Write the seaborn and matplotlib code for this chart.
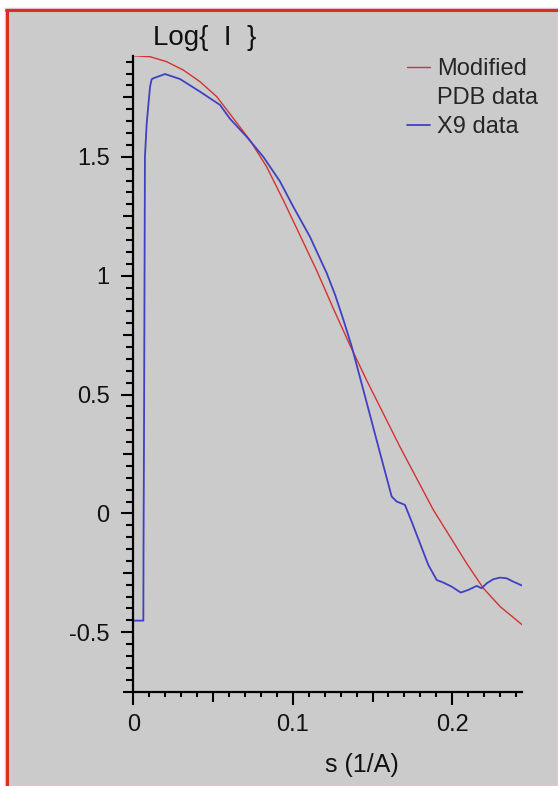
import numpy as np
import pandas as pd
import seaborn as sns
import matplotlib.pyplot as plt
from matplotlib.patches import Rectangle
from matplotlib.lines import Line2D
from matplotlib.ticker import MultipleLocator, FuncFormatter

# values
pdb_s = [0, 0.0105, 0.0209, 0.0313, 0.0418, 0.0523, 0.0627, 0.0731, 0.0836, 0.094,
         0.1045, 0.115, 0.1254, 0.1358, 0.1463, 0.1672, 0.1881, 0.209, 0.2195, 0.23, 0.2439]
pdb_log = [1.925, 1.921, 1.900, 1.865, 1.816, 1.753, 1.662, 1.570, 1.458, 1.318,
           1.170, 1.021, 0.862, 0.708, 0.560, 0.280, 0.015, -0.210, -0.315, -0.392, -0.469]

x9_s = [0, 0.0063, 0.0064, 0.0067, 0.0073, 0.0084, 0.0105, 0.0115, 0.0125, 0.0199,
        0.0293, 0.0418, 0.0544, 0.0606, 0.0711, 0.0815, 0.092, 0.1003, 0.1056, 0.1108,
        0.1213, 0.1265, 0.1317, 0.1369, 0.1442, 0.1547, 0.162, 0.1651, 0.1703, 0.1745,
        0.1797, 0.185, 0.1902, 0.1944, 0.1996, 0.2053, 0.21, 0.2153, 0.2184, 0.2216,
        0.2257, 0.2299, 0.2341, 0.2382, 0.2439]
x9_log = [-0.451, -0.451, -0.16, 0.30, 1.50, 1.64, 1.795, 1.826, 1.83, 1.848,
          1.827, 1.774, 1.718, 1.66, 1.584, 1.50, 1.396, 1.29, 1.226, 1.163,
          1.01, 0.92, 0.815, 0.703, 0.52, 0.254, 0.071, 0.05, 0.036, -0.034,
          -0.125, -0.217, -0.28, -0.291, -0.308, -0.333, -0.322, -0.305, -0.315, -0.294,
          -0.277, -0.27, -0.273, -0.287, -0.304]

series_names = ['Modified PDB data', 'X9 data']
series_colors = ['#d43232', '#4040c4']

df = pd.concat([
    pd.DataFrame({'s': pdb_s, 'logI': pdb_log, 'series': series_names[0]}),
    pd.DataFrame({'s': x9_s, 'logI': x9_log, 'series': series_names[1]}),
], ignore_index=True)

sns.set_style('ticks')
plt.rcParams['font.family'] = ['Liberation Sans', 'DejaVu Sans']

W, H = 558, 786
fig = plt.figure(figsize=(W / 100, H / 100), dpi=100)
fig.patch.set_facecolor('white')

# grey panel with the red / pink frame
fig.patches.append(Rectangle((6 / W, 0), (W - 6) / W, (H - 9) / H, transform=fig.transFigure,
                             facecolor='#cbcbcb', edgecolor='#e6c3cb', linewidth=2.5, zorder=-10))
fig.lines.append(Line2D([7 / W, 7 / W], [0, 1 - 10 / H], transform=fig.transFigure,
                        color='#d8301c', linewidth=2.2))
fig.lines.append(Line2D([6 / W, 1], [1 - 10 / H, 1 - 10 / H], transform=fig.transFigure,
                        color='#d8301c', linewidth=2.2))

ax = fig.add_axes([133.3 / W, 1 - 691.7 / H, (522.3 - 133.3) / W, (691.7 - 55.5) / H])
ax.set_facecolor('none')

sns.lineplot(data=df, x='s', y='logI', hue='series', palette=series_colors,
             estimator=None, sort=False, linewidth=1.2, legend=False, ax=ax)
ax.lines[0].set_linewidth(1.0)
ax.lines[1].set_linewidth(1.3)

ax.set_xlim(0, 0.2439)
ax.set_ylim(-0.75, 1.926)
ax.set_xlabel('')
ax.set_ylabel('')
for side in ['top', 'right']:
    ax.spines[side].set_visible(False)
for side in ['left', 'bottom']:
    ax.spines[side].set_linewidth(1.6)
    ax.spines[side].set_color('black')

ax.xaxis.set_major_locator(MultipleLocator(0.05))
ax.xaxis.set_minor_locator(MultipleLocator(0.01))
ax.yaxis.set_major_locator(MultipleLocator(0.25))
ax.yaxis.set_minor_locator(MultipleLocator(0.05))


def x_fmt(v, pos):
    if abs(round(v / 0.1) - v / 0.1) < 1e-6:
        return f'{round(v, 2):g}'
    return ''


def y_fmt(v, pos):
    if abs(round(v / 0.5) - v / 0.5) < 1e-6:
        return f'{round(v, 2):g}'
    return ''


ax.xaxis.set_major_formatter(FuncFormatter(x_fmt))
ax.yaxis.set_major_formatter(FuncFormatter(y_fmt))
ax.tick_params(which='both', direction='out', width=1.5, color='black',
               labelsize=17, labelcolor='#111111')
ax.tick_params(axis='y', which='major', length=9, pad=8)
ax.tick_params(axis='x', which='major', length=9, pad=7)
ax.tick_params(axis='y', which='minor', length=5)
ax.tick_params(axis='x', which='minor', length=3.6)

fig.canvas.draw()
for t in ax.yaxis.get_major_ticks():
    v = t.get_loc()
    if abs(round(v / 0.5) - v / 0.5) > 1e-6:
        t.tick1line.set_markersize(7)
for t in ax.xaxis.get_major_ticks():
    v = t.get_loc()
    if abs(round(v / 0.1) - v / 0.1) > 1e-6:
        t.tick1line.set_markersize(7)

# legend: first label split over two rows
blank = Line2D([], [], color='none')
ax.legend(handles=[ax.lines[0], blank, ax.lines[1]],
          labels=['Modified', 'PDB data', 'X9 data'],
          loc='upper left', bbox_to_anchor=(406.7 / W, 1 - 58 / H),
          bbox_transform=fig.transFigure, frameon=False, fontsize=17,
          handlelength=1.0, handletextpad=0.3, labelspacing=0.3,
          borderpad=0, borderaxespad=0)

fig.text(153 / W, 1 - 45 / H, 'Log{  I  }', fontsize=20, ha='left', va='baseline',
         color='#111111')
fig.text(362 / W, 1 - 765 / H, 's (1/A)', fontsize=18, ha='center', va='center',
         color='#111111')

fig.savefig('out.png', dpi=100)
